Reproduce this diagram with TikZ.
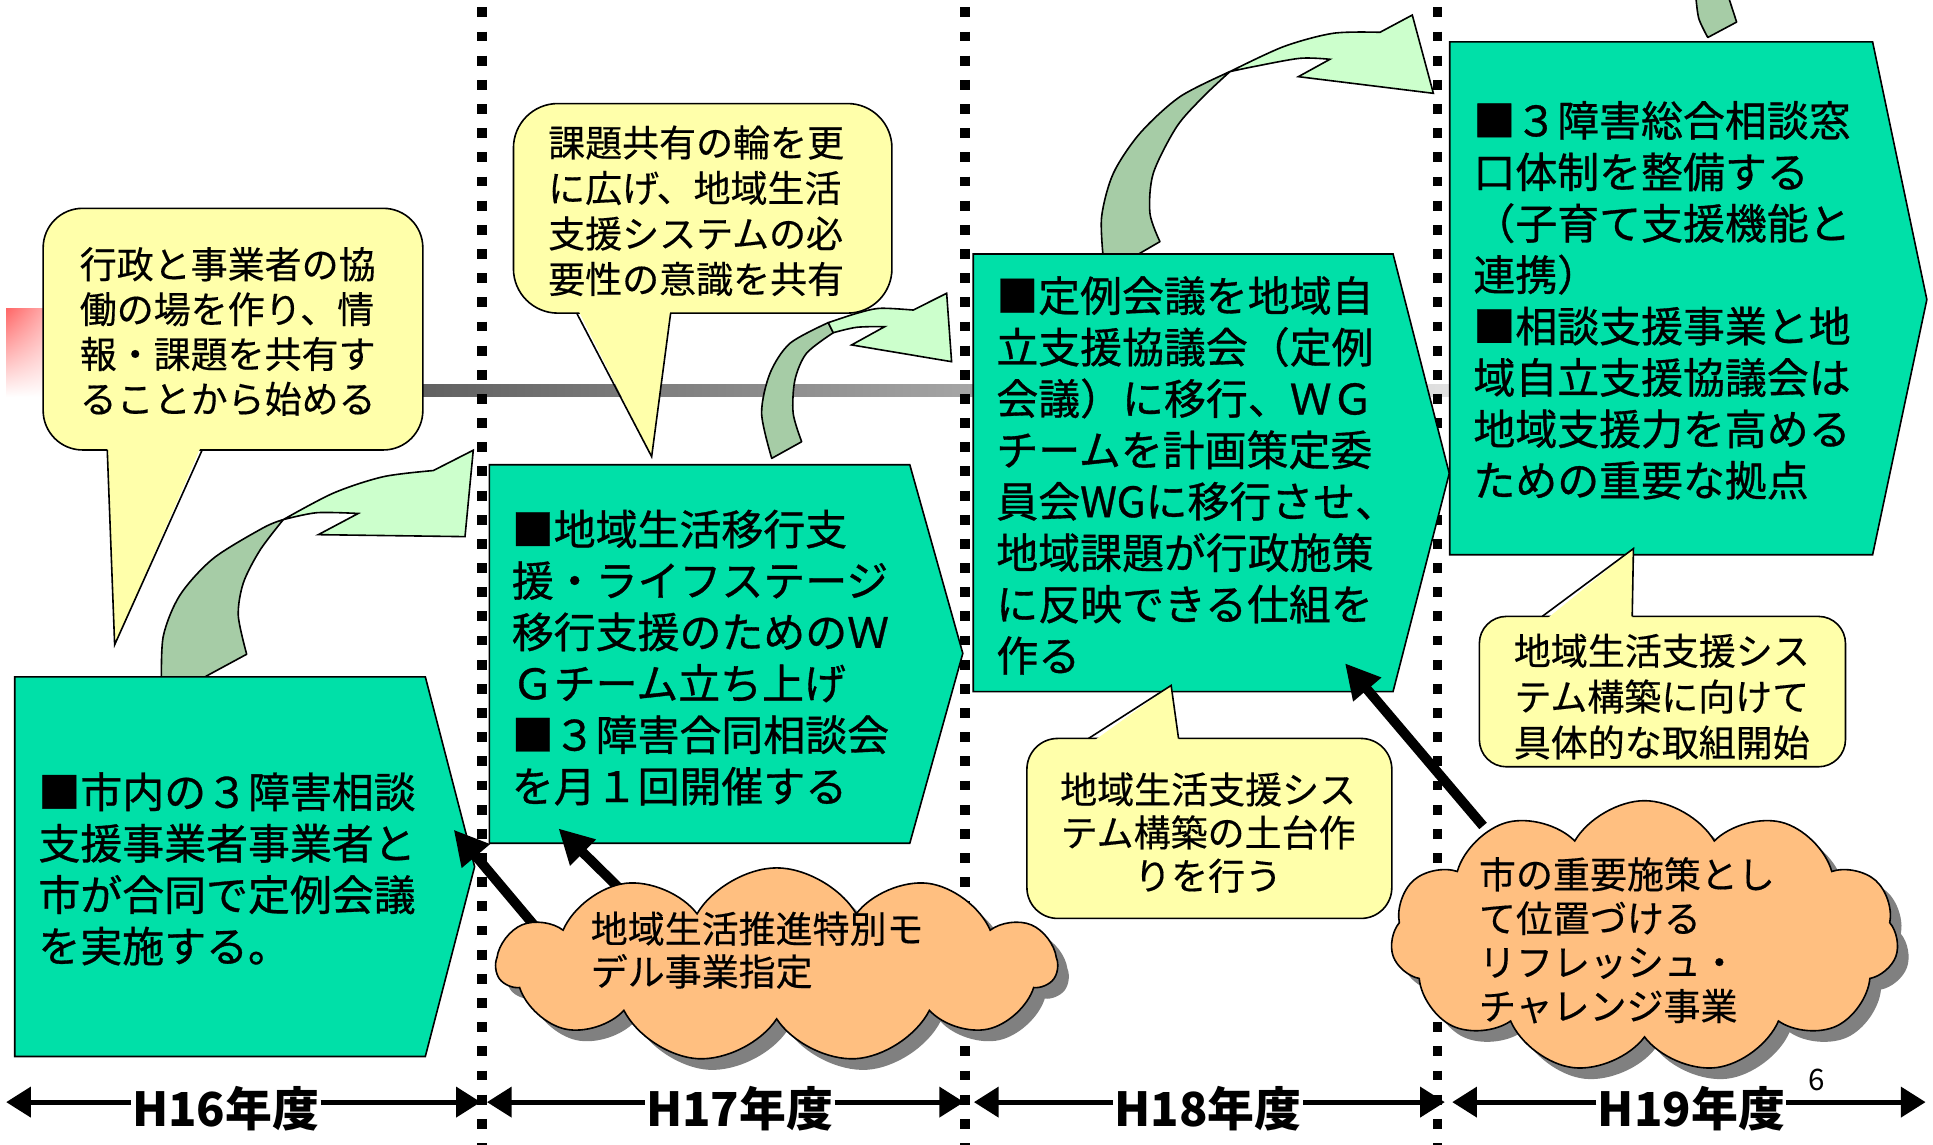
\documentclass[tikz,border=0pt]{standalone}
\usepackage{fontspec}
\setmainfont{Noto Sans CJK JP}
\newfontfamily\boxfont{Noto Sans CJK JP}[FakeBold=0.8]
\newfontfamily\callfont{Noto Sans CJK JP}[FakeBold=0.4]
\usetikzlibrary{arrows.meta,shapes.symbols,shadows,shadings}
\definecolor{boxgreen}{HTML}{00E0A8}
\definecolor{callyellow}{HTML}{FFFFAA}
\definecolor{cloudorange}{HTML}{FFBF80}
\definecolor{darkleaf}{HTML}{A6CCA6}
\definecolor{lightleaf}{HTML}{CCFFCC}
\begin{document}
\begin{tikzpicture}[x=1pt,y=-1pt,
  stepbox/.style={fill=boxgreen,draw=black,line width=1.3pt,line join=miter},
  callbox/.style={rectangle,fill=callyellow,draw=black,line width=1.3pt,inner sep=0pt},
  callside/.style={draw=black,line width=1.3pt},
  boxtext/.style={anchor=north west,align=left,inner sep=0pt,font=\boxfont\fontsize{34}{41.7}\selectfont},
  calltext/.style={inner sep=0pt,font=\callfont\fontsize{30}{#1}\selectfont},
  cloudy/.style={cloud,cloud puffs=11,cloud puff arc=120,cloud ignores aspect,fill=cloudorange,draw=black,line width=1.3pt,inner sep=0pt,
    drop shadow={shadow xshift=9pt,shadow yshift=-9pt,fill=black!50,opacity=1}},
  leafdark/.style={fill=darkleaf,draw=black,line width=1.3pt,line join=round},
  leaflight/.style={fill=lightleaf,draw=black,line width=1.3pt,line join=miter},
  blackarrow/.style={line width=8pt,-{Triangle[length=28pt,width=28pt]}},
  timearrow/.style={line width=4pt,-{Triangle[length=20pt,width=24pt]}},
  dotline/.style={line width=8pt,dash pattern=on 8pt off 11.6pt},
  timelabel/.style={inner sep=1pt,font=\bfseries\fontsize{38}{40}\selectfont},
  pagenum/.style={inner sep=0pt,font=\fontsize{24}{26}\selectfont}]
\useasboundingbox (0,0) rectangle (1568,928);
\fill[white] (0,0) rectangle (1568,928);

% background decorations
\shade[upper left=red!60,upper right=red!30,lower left=white,lower right=white] (5,250) rectangle (40,322);
\shade[left color=black!62,right color=black!12] (343,312) rectangle (1176,322);
\foreach \x in {391,783,1166} \draw[dotline] (\x,6) -- (\x,932);

% callout 1
\node[callbox,rounded corners=32pt,minimum width=308pt,minimum height=196pt] (cb1) at (189,267) {};
\fill[callyellow] (87,360) -- (93,523) -- (164,360) -- cycle;
\draw[callside] (87,365) -- (93,523) -- (164,365);
\node[calltext=36.4,anchor=north west,align=left] (ct1) at (64.5,200.3) {行政と事業者の協\\働の場を作り、情\\報・課題を共有す\\ることから始める};

% callout 2
\node[callbox,rounded corners=36pt,minimum width=307pt,minimum height=170pt] (cb2) at (570,169) {};
\fill[callyellow] (467.8,249) -- (528.6,370.4) -- (544,249) -- cycle;
\draw[callside] (467.8,254) -- (528.6,370.4) -- (544,254);
\node[calltext=36.9,anchor=north west,align=left] (ct2) at (444.5,101.6) {課題共有の輪を更\\に広げ、地域生活\\支援システムの必\\要性の意識を共有};

% curved arrow 1
\draw[leafdark] plot[smooth] coordinates {(131,553) (132.5,515.8) (146,482.7) (173,453) (213.6,428.1) (229.8,421.5)}
  -- plot[smooth] coordinates {(229.8,421.5) (210.9,446.3) (197.4,472.8) (193.3,499.3) (200.1,530.7)}
  -- (167.6,548.3) -- (160,553) -- cycle;
\draw[leaflight] plot[smooth] coordinates {(229.8,421.5) (270.4,400) (310.9,386.7) (351.5,381.7)}
  -- (383.9,365.2) -- (377.2,435.3) -- (258.2,433.7) -- (290.6,416.5)
  -- plot[smooth] coordinates {(290.6,416.5) (256.9,415.9) (229.8,421.5)} -- cycle;

% curved arrow 2
\draw[leafdark] plot[smooth] coordinates {(626,371.8) (617.8,335.3) (624.6,302.8) (640.8,278.5) (671.9,261.7)}
  -- (675.9,269.9)
  -- plot[smooth] coordinates {(675.9,269.9) (654.2,286.6) (644.8,308.3) (643.4,335.3) (650.3,358.3)} -- cycle;
\draw[leaflight] plot[smooth] coordinates {(671.9,261.7) (694.9,254.2) (713.8,250.1) (740.8,251.5)}
  -- (767.9,237.9) -- (771.9,293.4) -- (690.8,279.8) -- (717.8,264.9)
  -- plot[smooth] coordinates {(717.8,264.9) (694.9,265.5) (675.9,269.9)} -- cycle;

% curved arrow 3
\draw[leafdark] plot[smooth] coordinates {(895,210) (893.6,175.8) (903.1,140.6) (924.7,108.1) (957.2,78.4) (997.7,58.1)}
  -- plot[smooth] coordinates {(997.7,58.1) (976.1,78.4) (954.5,102.8) (935.5,140.6) (932.8,173) (940.9,196)}
  -- (922,207) -- (922,210) -- cycle;
\draw[leaflight] plot[smooth] coordinates {(997.7,58.1) (1041,37.9) (1081.5,27.0) (1119.4,26.2)}
  -- (1145.6,12.2) -- (1162.7,75.7) -- (1053.2,62.2) -- (1078.8,48.1)
  -- plot[smooth] coordinates {(1078.8,48.1) (1054.5,47.3) (1016.7,54.1) (997.7,58.1)} -- cycle;

% tail of arrow leaving at top right
\draw[leafdark] plot[smooth] coordinates {(1375.6,-3) (1378,15) (1385.3,30.4)} -- (1408.7,17.9) -- (1401.9,-3) -- cycle;

% step boxes
\draw[stepbox] (12,549) -- (345,549) -- (385,703) -- (345,857) -- (12,857) -- cycle;
\draw[stepbox] (397,377) -- (738,377) -- (781,530) -- (738,684) -- (397,684) -- cycle;
\draw[stepbox] (789.5,206) -- (1130,206) -- (1175.6,384) -- (1130,561) -- (789.5,561) -- cycle;
\draw[stepbox] (1176,34) -- (1519,34) -- (1563,243) -- (1519,450) -- (1176,450) -- cycle;

\node[boxtext] (bt1) at (31,626.3) {■市内の３障害相談\\支援事業者事業者と\\市が合同で定例会議\\を実施する。};
\node[boxtext] (bt2) at (415,413.3) {■地域生活移行支\\援・ライフステージ\\移行支援のためのＷ\\Ｇチーム立ち上げ\\■３障害合同相談会\\を月１回開催する};
\node[boxtext] (bt3) at (808,223.9) {■定例会議を地域自\\立支援協議会（定例\\会議）に移行、ＷＧ\\チームを計画策定委\\員会WGに移行させ、\\地域課題が行政施策\\に反映できる仕組を\\作る};
\node[boxtext] (bt4) at (1195,81.8) {■３障害総合相談窓\\口体制を整備する\\（子育て支援機能と\\連携）\\■相談支援事業と地\\域自立支援協議会は\\地域支援力を高める\\ための重要な拠点};

% callout 3
\node[callbox,rounded corners=25pt,minimum width=296pt,minimum height=146pt] (cb3) at (981,672) {};
\fill[callyellow] (883,604) -- (950,556) -- (956.6,604) -- cycle;
\draw[callside] (883,599) -- (950,556) -- (956,599);
\node[calltext=35,anchor=north,align=center] (ct3) at (980,626.3) {地域生活支援シス\\テム構築の土台作\\りを行う};

% callout 4
\node[callbox,rounded corners=22pt,minimum width=297pt,minimum height=122pt] (cb4) at (1348.5,561) {};
\fill[callyellow] (1251,505) -- (1325,445) -- (1324.1,505) -- cycle;
\draw[callside] (1251,500) -- (1325,445) -- (1324,500);
\node[calltext=37.2,anchor=north,align=center] (ct4) at (1348,513.9) {地域生活支援シス\\テム構築に向けて\\具体的な取組開始};

% black arrows
\coordinate (a1s) at (442,761); \coordinate (a1e) at (368,673);
\coordinate (a2s) at (514,732); \coordinate (a2e) at (453,672);
\coordinate (a3s) at (1203,670); \coordinate (a3e) at (1091,538);
\draw[blackarrow] (a1s) -- (a1e);
\draw[blackarrow] (a2s) -- (a2e);
\draw[blackarrow] (a3s) -- (a3e);

% clouds
\node[cloudy,minimum width=454pt,minimum height=158pt] (cl1) at (630,783) {};
\node[calltext=34.7,anchor=north west,align=left] (clt1) at (479,739.3) {地域生活推進特別モ\\デル事業指定};
\node[cloudy,minimum width=412pt,minimum height=221pt] (cl2) at (1334,760) {};
\node[calltext=35.6,anchor=north west,align=left] (clt2) at (1199.5,695.1) {市の重要施策とし\\て位置づける\\リフレッシュ・\\チャレンジ事業};

% timeline
\node[timelabel] (t16) at (183,899) {H16年度};
\node[timelabel] (t17) at (600,899) {H17年度};
\node[timelabel] (t18) at (980,899) {H18年度};
\node[timelabel] (t19) at (1372,899) {H19年度};
\coordinate (l16) at (5,894);   \coordinate (r16) at (390,894);
\coordinate (l17) at (395,894); \coordinate (r17) at (782,894);
\coordinate (l18) at (790,894); \coordinate (r18) at (1172,894);
\coordinate (l19) at (1178,894);\coordinate (r19) at (1562,894);
\draw[timearrow] (t16.west |- l16) -- (l16);
\draw[timearrow] (t16.east |- r16) -- (r16);
\draw[timearrow] (t17.west |- l17) -- (l17);
\draw[timearrow] (t17.east |- r17) -- (r17);
\draw[timearrow] (t18.west |- l18) -- (l18);
\draw[timearrow] (t18.east |- r18) -- (r18);
\draw[timearrow] (t19.west |- l19) -- (l19);
\draw[timearrow] (t19.east |- r19) -- (r19);
\node[pagenum] (pg) at (1474,876) {6};
\end{tikzpicture}
\end{document}
